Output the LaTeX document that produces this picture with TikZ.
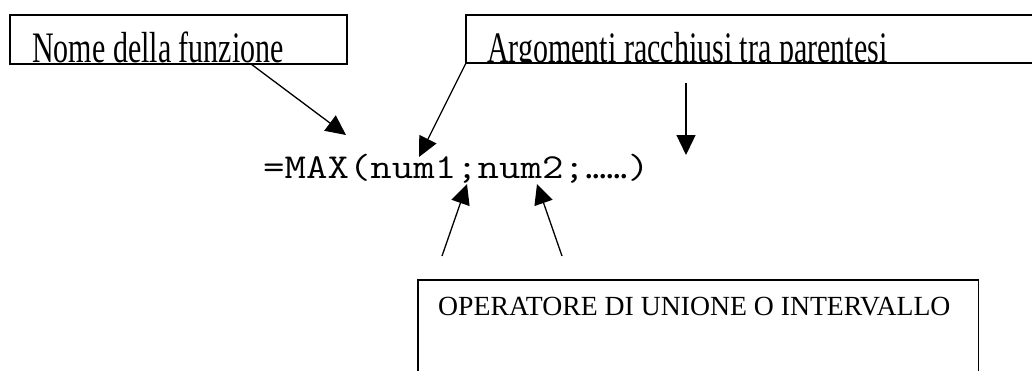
\documentclass[tikz,border=0pt]{standalone}
\usepackage{fontspec}
\setmainfont{Liberation Serif}
\usetikzlibrary{arrows.meta,calc}
\begin{document}
\begin{tikzpicture}[x=1pt,y=-1pt,
  frame/.style={draw, line width=1.5pt, inner sep=0pt, outer sep=0pt},
  lbl/.style={inner sep=0pt, anchor=base west, font=\fontsize{30}{30}\selectfont},
  code/.style={inner sep=0pt, anchor=base west, font=\fontsize{35}{35}\selectfont\ttfamily},
  pointer/.style={line width=1.3pt, -{Triangle[length=20pt,width=19pt]}}]
\useasboundingbox (0,0) rectangle (1032,370);
\clip (0,0) rectangle (1032,370);

% label boxes along the top
\node[frame, minimum width=337pt, minimum height=49pt] (nome) at (178.5,39.5) {};
\node[frame, minimum width=584pt, minimum height=48pt] (args) at (758,39) {};

% box captions, cut off by the box edges
\begin{scope}
  \clip (nome.south west) rectangle (nome.north east);
  \node[lbl] (nometxt) at (32,62.5) {\scalebox{1}[1.45]{Nome della funzione}};
\end{scope}
\begin{scope}
  \clip (args.south west) rectangle (args.north east);
  \node[lbl] (argstxt) at (487,62.5) {\scalebox{1}[1.45]{Argomenti racchiusi tra parentesi}};
\end{scope}

% lower box, a little wider than its caption
\node[lbl, font=\fontsize{27.7}{27.7}\selectfont] (opertxt) at (438,315) {OPERATORE DI UNIONE O INTERVALLO};
\path let \p1 = (opertxt.east) in
  node[frame, anchor=north west, minimum width={\x1+28pt-418pt}, minimum height=120pt] (oper) at (418,280) {};

% the formula
\node[code] (f1) at (263,178) {\scalebox{1.19}[1]{=MAX(num1;num2;}};
\node[inner sep=0pt, anchor=base west, font=\fontsize{28}{28}\selectfont\bfseries] (dots) at (f1.base east) {......};
\node[code] (close) at (dots.base east) {\scalebox{1.19}[1]{)}};

% pointer ends
\coordinate (nomefoot) at (251,64);
\coordinate (nametip) at (346,135);
\coordinate (argtip) at (419,157);
\coordinate (vtop) at (686,83);
\coordinate (vtip) at (686,155);
\coordinate (sepfoot1) at (442,256);
\coordinate (septip1) at (467,184);
\coordinate (sepfoot2) at (562,256);
\coordinate (septip2) at (537,184);

\draw[pointer] (nomefoot) -- (nametip);
\draw[pointer] (args.south west) -- (argtip);
\draw[pointer] (vtop) -- (vtip);
\draw[pointer] (sepfoot1) -- (septip1);
\draw[pointer] (sepfoot2) -- (septip2);
\end{tikzpicture}
\end{document}
